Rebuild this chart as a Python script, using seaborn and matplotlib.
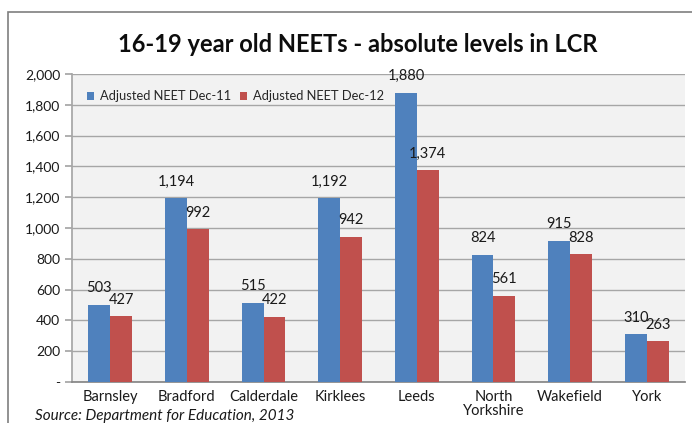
import matplotlib
matplotlib.use("Agg")
import matplotlib.pyplot as plt
import matplotlib.ticker as mticker
from matplotlib.patches import Rectangle
import seaborn as sns
import pandas as pd

areas = ["Barnsley", "Bradford", "Calderdale", "Kirklees", "Leeds",
         "North\nYorkshire", "Wakefield", "York"]
neet_dec11 = [503, 1194, 515, 1192, 1880, 824, 915, 310]
neet_dec12 = [427, 992, 422, 942, 1374, 561, 828, 263]
series_names = ["Adjusted NEET Dec-11", "Adjusted NEET Dec-12"]
y_ticks = [0, 200, 400, 600, 800, 1000, 1200, 1400, 1600, 1800, 2000]

df = pd.DataFrame({
    "area": areas * 2,
    "value": neet_dec11 + neet_dec12,
    "series": [series_names[0]] * len(areas) + [series_names[1]] * len(areas),
})

sns.set_theme(style="white")
plt.rcParams["font.family"] = ["Lato", "DejaVu Sans"]

fig = plt.figure(figsize=(6.92, 4.23), dpi=100)
fig.patch.set_facecolor("white")
ax = fig.add_axes([0.104, 0.097, 0.886, 0.728])
ax.set_facecolor("#f2f2f2")

palette = {series_names[0]: "#4f81bd", series_names[1]: "#c0504d"}
sns.barplot(data=df, x="area", y="value", hue="series", palette=palette,
            width=0.57, saturation=1, ax=ax, zorder=3, edgecolor="none")

ax.set_ylim(0, 2000)
ax.set_yticks(y_ticks)
ax.yaxis.set_major_formatter(mticker.FuncFormatter(
    lambda v, p: "-" if v == 0 else f"{int(v):,}"))
ax.grid(axis="y", color="#a6a6a6", linewidth=1, zorder=0)
ax.set_xlabel("")
ax.set_ylabel("")

for s in ["top", "right"]:
    ax.spines[s].set_visible(False)
ax.spines["left"].set_color("#a6a6a6")
ax.spines["bottom"].set_color("#868686")

# tick marks sit between categories on the x axis
ax.set_xticks(range(len(areas)))
ax.set_xticklabels(areas, linespacing=1.0)
ax.tick_params(axis="x", length=0, labelsize=10.5, pad=6, colors="#1a1a1a")
ax.set_xticks([i - 0.5 for i in range(len(areas) + 1)], minor=True)
ax.tick_params(axis="x", which="minor", length=5, color="#868686")
ax.tick_params(axis="y", length=5, color="#a6a6a6", labelsize=10,
               colors="#1a1a1a", left=True)
ax.set_xlim(-0.5, len(areas) - 0.5)

# value labels
for container in ax.containers:
    ax.bar_label(container, labels=[f"{int(v):,}" for v in container.datavalues],
                 fontsize=10.5, padding=7, color="#1a1a1a", zorder=5)

ax.legend(loc="upper left", bbox_to_anchor=(0.005, 0.985), ncol=2, frameon=False,
          fontsize=9.3, handlelength=0.6, handleheight=0.6, handletextpad=0.4,
          columnspacing=0.7)

fig.text(0.517, 0.894, "16-19 year old NEETs - absolute levels in LCR",
         ha="center", va="center", fontsize=17, fontweight="bold", color="#0d0d0d")
fig.text(0.05, 0.001, "Source: Department for Education, 2013",
         ha="left", va="bottom", fontsize=11, style="italic", color="#1a1a1a")

# outer chart frame, running off the right and bottom edges
fig.patches.append(Rectangle((8 / 692, -0.1), 1.0, 1 - 12 / 423 + 0.1,
                             transform=fig.transFigure, fill=False,
                             edgecolor="#7f7f7f", linewidth=1.2))

fig.savefig("out.png", dpi=100)
